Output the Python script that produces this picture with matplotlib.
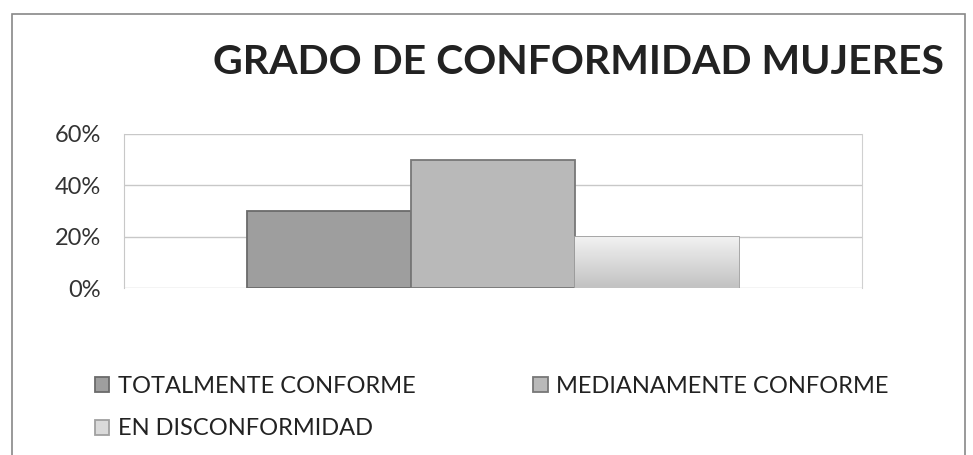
import numpy as np
import matplotlib.pyplot as plt
from matplotlib.patches import Rectangle
from matplotlib.colors import LinearSegmentedColormap
from matplotlib.ticker import PercentFormatter

plt.rcParams['font.family'] = ['Lato', 'DejaVu Sans']

# datos
series = ['TOTALMENTE CONFORME', 'MEDIANAMENTE CONFORME', 'EN DISCONFORMIDAD']
valores = [0.30, 0.50, 0.20]
colores = ['#9e9e9e', '#b9b9b9', '#dadada']
bordes = ['#6a6a6a', '#777777', '#a0a0a0']
yticks = [0, 0.2, 0.4, 0.6]

fig = plt.figure(figsize=(9.73, 4.55), dpi=100)
ax = fig.add_axes([0.127, 0.366, 0.759, 0.340])

ancho = 0.222
offsets = [-ancho, 0, ancho]
barras = []
for nombre, v, c, b, off in zip(series, valores, colores, bordes, offsets):
    r = ax.bar(off, v, width=ancho, color=c, edgecolor=b, linewidth=1.3,
               label=nombre, zorder=3)
    barras.append(r)

# degradado suave en la ultima barra (claro arriba, gris abajo)
p = barras[2].patches[0]
cmap = LinearSegmentedColormap.from_list('claro', ['#f2f2f2', '#c2c2c2'])
grad = np.linspace(0, 1, 100).reshape(-1, 1)
im = ax.imshow(grad, cmap=cmap, aspect='auto',
               extent=[p.get_x(), p.get_x() + p.get_width(), 0, valores[2]],
               origin='upper', zorder=3.5)
im.set_clip_path(p)

ax.set_xlim(-0.5, 0.5)
ax.set_ylim(0, 0.6)
ax.set_yticks(yticks)
ax.yaxis.set_major_formatter(PercentFormatter(1.0, decimals=0))
ax.set_xticks([])
ax.grid(axis='y', color='#c8c8c8', linewidth=1, zorder=0)
for s in ['top', 'bottom']:
    ax.spines[s].set_visible(False)
ax.spines['left'].set_color('#c8c8c8')
ax.spines['right'].set_color('#d0d0d0')
ax.tick_params(axis='y', length=0, labelsize=17, pad=16, colors='#333333')

fig.text(0.595, 0.862, 'GRADO DE CONFORMIDAD MUJERES', ha='center', va='center',
         fontsize=29.5, fontweight='bold', color='#222222')

h = [barras[0], barras[2], barras[1]]
l = [series[0], series[2], series[1]]
fig.legend(h, l, ncol=2, loc='upper left', bbox_to_anchor=(0.076, 0.22),
           frameon=False, fontsize=17, handlelength=0.6, handleheight=0.6,
           handletextpad=0.35, columnspacing=5.0, labelspacing=0.9,
           labelcolor='#222222')

fig.patches.append(Rectangle((0.012, -0.1), 0.98, 1.07, transform=fig.transFigure,
                             fill=False, edgecolor='#888888', linewidth=1.2))

fig.savefig('out.png', dpi=100)
